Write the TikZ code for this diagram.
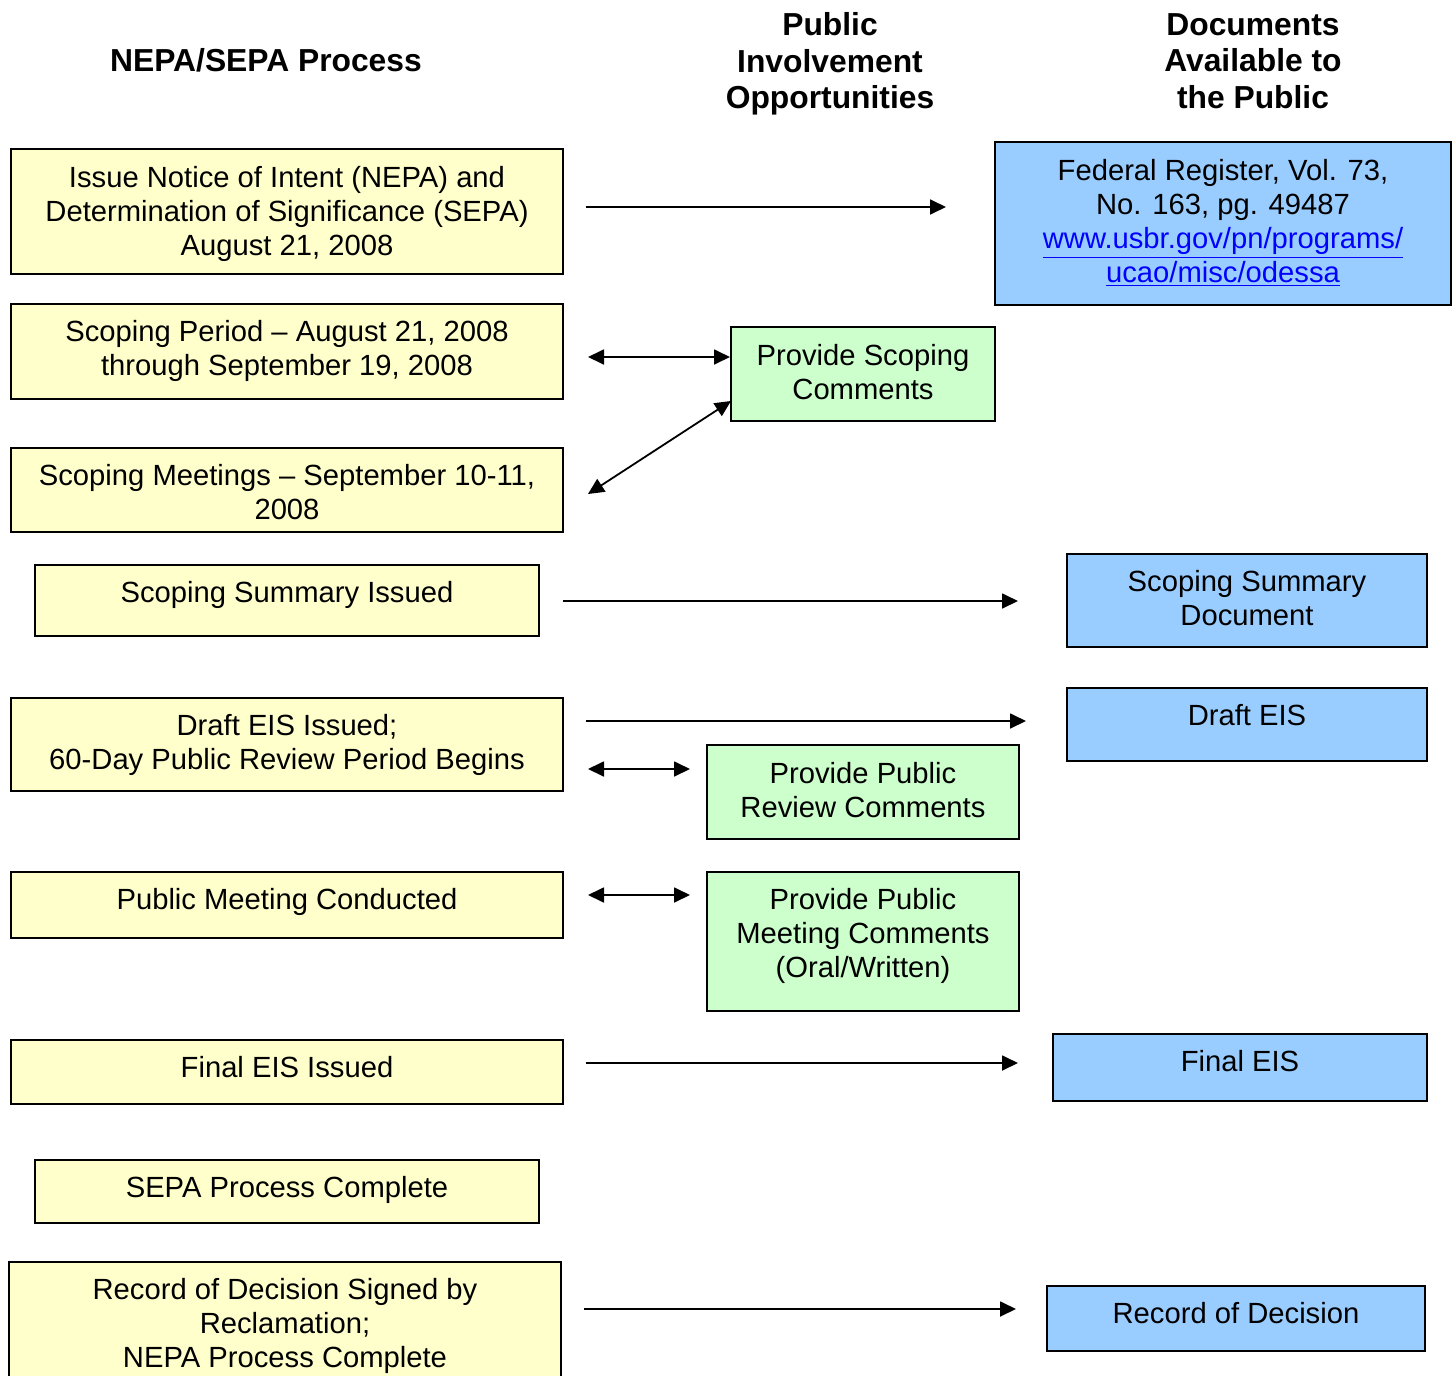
\documentclass[tikz,border=0pt]{standalone}
\usepackage{fontspec}
\setmainfont{Liberation Sans}
\usetikzlibrary{arrows.meta}
\definecolor{yfill}{HTML}{FFFFCC}
\definecolor{gfill}{HTML}{CCFFCC}
\definecolor{bfill}{HTML}{99CCFF}
\definecolor{linkblue}{HTML}{0000FF}
\begin{document}
\begin{tikzpicture}[x=0.5pt,y=-0.5pt,
  boxbase/.style={draw=black, line width=1pt, inner sep=0pt},
  ybox/.style={boxbase, fill=yfill},
  gbox/.style={boxbase, fill=gfill},
  bbox/.style={boxbase, fill=bfill},
  txt/.style={align=center, inner sep=0pt, yshift=-1.5pt, font=\fontsize{14.6}{17}\selectfont},
  hdr/.style={align=center, inner sep=0pt, font=\fontsize{15.9}{18.3}\selectfont\bfseries},
  tip/.tip={Triangle[length=8pt,width=7.5pt]},
  arr/.style={line width=0.9pt, -tip},
  darr/.style={line width=0.9pt, tip-tip}]
\clip (0,0) rectangle (1453,1376);
\fill[white] (0,0) rectangle (1453,1376);

% headers
\node[hdr] (h1) at (266,60) {NEPA/SEPA Process};
\node[hdr] (h2) at (830,64) {Public\\Involvement\\Opportunities};
\node[hdr] (h3) at (1253,61) {Documents\\Available to\\the Public};

% yellow process boxes
\node[ybox, minimum width=276pt, minimum height=62.5pt] (b1) at (287,211.5) {};
\node[ybox, minimum width=276pt, minimum height=47.5pt] (b2) at (287,351.5) {};
\node[ybox, minimum width=276pt, minimum height=42pt] (b3) at (287,490) {};
\node[ybox, minimum width=252pt, minimum height=35.5pt] (b4) at (287,600.5) {};
\node[ybox, minimum width=276pt, minimum height=46.5pt] (b5) at (287,744.5) {};
\node[ybox, minimum width=276pt, minimum height=33pt] (b6) at (287,905) {};
\node[ybox, minimum width=276pt, minimum height=32pt] (b7) at (287,1072) {};
\node[ybox, minimum width=252pt, minimum height=31.5pt] (b8) at (287,1191.5) {};
\node[ybox, minimum width=276pt, minimum height=69pt] (b9) at (285,1331) {};

\node[txt] (t1) at (287,211) {Issue Notice of Intent (NEPA) and\\Determination of Significance (SEPA)\\August 21, 2008};
\node[txt] (t2) at (287,348) {Scoping Period -- August 21, 2008\\through September 19, 2008};
\node[txt] (t3) at (287,489) {Scoping Meetings -- September 10-11,\\2008};
\node[txt] (t4) at (287,592) {Scoping Summary Issued};
\node[txt] (t5) at (287,742) {Draft EIS Issued;\\60-Day Public Review Period Begins};
\node[txt] (t6) at (287,899) {Public Meeting Conducted};
\node[txt] (t7) at (287,1064) {Final EIS Issued};
\node[txt] (t8) at (287,1187) {SEPA Process Complete};
\node[txt] (t9) at (285,1323) {Record of Decision Signed by\\Reclamation;\\NEPA Process Complete};

% green public involvement boxes
\node[gbox, minimum width=132pt, minimum height=47pt] (g1) at (863,374) {};
\node[gbox, minimum width=156pt, minimum height=47pt] (g2) at (863,792) {};
\node[gbox, minimum width=156pt, minimum height=69.5pt] (g3) at (863,941.5) {};
\node[txt] (u1) at (863,369) {Provide Scoping\\Comments};
\node[txt] (u2) at (863,787) {Provide Public\\Review Comments};
\node[txt] (u3) at (863,933) {Provide Public\\Meeting Comments\\(Oral/Written)};

% blue document boxes
\node[bbox, minimum width=228pt, minimum height=81.5pt] (d1) at (1223,223.5) {};
\node[bbox, minimum width=180pt, minimum height=46.5pt] (d2) at (1247,600.5) {};
\node[bbox, minimum width=180pt, minimum height=36.5pt] (d3) at (1247,724.5) {};
\node[bbox, minimum width=187pt, minimum height=33.5pt] (d4) at (1240,1067.5) {};
\node[bbox, minimum width=189pt, minimum height=32.5pt] (d5) at (1236,1318.5) {};
\node[txt] (v1) at (1223,220) {Federal Register, Vol. 73,\\No. 163, pg. 49487\\{\color{linkblue}\underline{www.usbr.gov/pn/programs/}}\\{\color{linkblue}\underline{ucao/misc/odessa}}};
\node[txt] (v2) at (1247,595) {Scoping Summary\\Document};
\node[txt] (v3) at (1247,712) {Draft EIS};
\node[txt] (v4) at (1240,1058) {Final EIS};
\node[txt] (v5) at (1236,1310) {Record of Decision};

% connector end points (arrows stop short of the boxes)
\coordinate (a1s) at (586,207);  \coordinate (a1e) at (946,207);
\coordinate (a2s) at (588,357);  \coordinate (a2e) at (g1.west |- a2s);
\coordinate (a3s) at (588,494);  \coordinate (a3e) at (731,401);
\coordinate (a4s) at (563,601);  \coordinate (a4e) at (1018,601);
\coordinate (a5s) at (586,721);  \coordinate (a5e) at (1026,721);
\coordinate (a6s) at (588,769);  \coordinate (a6e) at (690,769);
\coordinate (a7s) at (588,895);  \coordinate (a7e) at (690,895);
\coordinate (a8s) at (586,1063); \coordinate (a8e) at (1018,1063);
\coordinate (a9s) at (584,1309); \coordinate (a9e) at (1016,1309);

\draw[arr]  (a1s) -- (a1e);
\draw[darr] (a2s) -- (a2e);
\draw[darr] (a3s) -- (a3e);
\draw[arr]  (a4s) -- (a4e);
\draw[arr]  (a5s) -- (a5e);
\draw[darr] (a6s) -- (a6e);
\draw[darr] (a7s) -- (a7e);
\draw[arr]  (a8s) -- (a8e);
\draw[arr]  (a9s) -- (a9e);
\end{tikzpicture}
\end{document}
